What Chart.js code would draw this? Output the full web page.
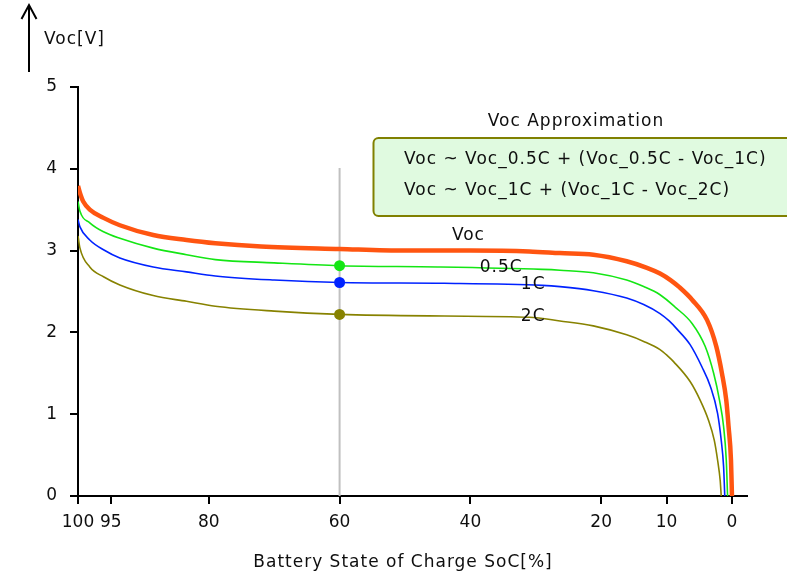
<!DOCTYPE html>
<html><head><meta charset="utf-8">
<script src="https://cdn.jsdelivr.net/npm/chart.js@4.4.0/dist/chart.umd.min.js"></script>
<style>html,body{margin:0;padding:0;background:#fff;}canvas{display:block;}</style>
</head><body>
<canvas id="c" width="787" height="574"></canvas>
<script>
// ---- data ----
const xTickValues = [100, 95, 80, 60, 40, 20, 10, 0];
const yTickValues = [0, 1, 2, 3, 4, 5];

const vocSoc = [100, 99.6, 99.2, 98.2, 96.1, 93.6, 88.5, 83.4, 79, 72, 60, 50, 40, 31, 26.3, 21.2, 16.1, 13, 11, 9.4, 8, 6.1, 3.8, 2.4, 1.53, 0.87, 0.52, 0.15, 0];
const vocValues = [3.79, 3.68, 3.60, 3.50, 3.40, 3.31, 3.19, 3.13, 3.09, 3.05, 3.02, 3.00, 3.00, 2.99, 2.97, 2.95, 2.87, 2.79, 2.72, 2.64, 2.55, 2.40, 2.15, 1.83, 1.50, 1.17, 0.85, 0.44, 0];

const c05Soc = [100, 99.7, 98.2, 96.1, 93.6, 88.5, 83.4, 79, 70, 60, 45, 29, 26.3, 21.2, 16.1, 13.5, 11, 8.7, 6.1, 4.1, 2.8, 1.9, 1.28, 0.87, 0.67];
const c05Values = [3.60, 3.48, 3.34, 3.23, 3.15, 3.03, 2.95, 2.89, 2.85, 2.815, 2.80, 2.77, 2.76, 2.73, 2.64, 2.56, 2.46, 2.31, 2.11, 1.83, 1.50, 1.17, 0.85, 0.44, 0];

const c1Soc = [100, 99.7, 98.2, 96.1, 93.6, 88.5, 83.4, 79, 70, 60, 44, 29, 26.3, 21.2, 16.1, 13.5, 11, 9.6, 8.4, 6.4, 4.6, 3.3, 2.2, 1.64, 1.28, 1.1];
const c1Values = [3.38, 3.29, 3.13, 3.01, 2.91, 2.80, 2.74, 2.69, 2.64, 2.61, 2.60, 2.575, 2.56, 2.51, 2.42, 2.34, 2.23, 2.14, 2.04, 1.85, 1.58, 1.34, 1.01, 0.68, 0.36, 0];

const c2Soc = [100, 99.7, 98.2, 96.1, 93.6, 88.5, 83.4, 79, 70, 60, 44, 31, 26.3, 21.2, 16.1, 13.5, 11, 9.8, 8.9, 6.4, 4.85, 3.6, 2.7, 2.2, 1.8, 1.64];
const c2Values = [3.18, 3.03, 2.80, 2.68, 2.58, 2.45, 2.38, 2.32, 2.26, 2.22, 2.20, 2.185, 2.14, 2.08, 1.97, 1.89, 1.79, 1.71, 1.64, 1.40, 1.17, 0.93, 0.68, 0.44, 0.19, 0];

const cursorSoc = [60, 60];
const cursorValues = [0, 4.01];
const markerSoc = [60, 60, 60];
const markerValues = [2.815, 2.61, 2.22];

const seriesLabels = ['Voc', '0.5C', '1C', '2C'];
const seriesLabelSoc = [40.3, 35.3, 30.4, 30.4];
const seriesLabelValues = [3.20, 2.81, 2.61, 2.21];

const xTitle = 'Battery State of Charge SoC[%]';
const yTitle = 'Voc[V]';
const noteTitle = 'Voc Approximation';
const noteLines = ['Voc ~ Voc_0.5C + (Voc_0.5C - Voc_1C)', 'Voc ~ Voc_1C + (Voc_1C - Voc_2C)'];

// ---- style ----
const COL_VOC = '#ff5511', COL_05 = '#14e614', COL_1 = '#0022ff', COL_2 = '#878200';
const FONT = '"DejaVu Sans", Verdana, sans-serif';
const TXT = '#0e0e0e';

const pts = (xs, ys) => xs.map((x, i) => ({x, y: ys[i]}));

const textPlugin = {
  id: 'texts',
  afterDraw(chart) {
    const ctx = chart.ctx;
    const xs = chart.scales.x, ys = chart.scales.y;
    ctx.save();
    ctx.fillStyle = TXT;
    ctx.font = '17px ' + FONT;
    ctx.letterSpacing = '1px';
    ctx.textBaseline = 'alphabetic';
    // y title + arrow
    ctx.textAlign = 'left';
    ctx.fillText(yTitle, 44, 44);
    ctx.strokeStyle = '#000';
    ctx.lineWidth = 2;
    ctx.beginPath();
    ctx.moveTo(29, 72); ctx.lineTo(29, 5);
    ctx.moveTo(21.5, 19); ctx.lineTo(29, 5); ctx.lineTo(36.5, 19);
    ctx.stroke();
    // x title
    ctx.textAlign = 'center';
    ctx.fillText(xTitle, 403, 567);
    // series labels
    seriesLabels.forEach((t, i) => {
      ctx.fillText(t, xs.getPixelForValue(seriesLabelSoc[i]), ys.getPixelForValue(seriesLabelValues[i]) + 6.2);
    });
    // note
    ctx.fillText(noteTitle, 576, 126);
    ctx.fillStyle = '#e0fae0';
    ctx.strokeStyle = '#808000';
    ctx.lineWidth = 2;
    ctx.beginPath();
    ctx.roundRect(373.5, 138, 440, 78, 5);
    ctx.fill(); ctx.stroke();
    ctx.fillStyle = TXT;
    ctx.textAlign = 'left';
    ctx.fillText(noteLines[0], 404, 163.5);
    ctx.fillText(noteLines[1], 404, 195);
    ctx.restore();
  }
};

new Chart(document.getElementById('c'), {
  type: 'scatter',
  data: {
    datasets: [
      {label: 'cursor', data: pts(cursorSoc, cursorValues), showLine: true, borderColor: '#c0c0c0', borderWidth: 2, pointRadius: 0, order: 10},
      {label: '2C', data: pts(c2Soc, c2Values), showLine: true, borderColor: COL_2, borderWidth: 1.6, pointRadius: 0, cubicInterpolationMode: 'monotone', order: 6},
      {label: '1C', data: pts(c1Soc, c1Values), showLine: true, borderColor: COL_1, borderWidth: 1.6, pointRadius: 0, cubicInterpolationMode: 'monotone', order: 5},
      {label: '0.5C', data: pts(c05Soc, c05Values), showLine: true, borderColor: COL_05, borderWidth: 1.6, pointRadius: 0, cubicInterpolationMode: 'monotone', order: 4},
      {label: 'Voc', data: pts(vocSoc, vocValues), showLine: true, borderColor: COL_VOC, borderWidth: 4.5, pointRadius: 0, cubicInterpolationMode: 'monotone', order: 3},
      {label: 'markers', data: pts(markerSoc, markerValues), showLine: false, pointRadius: 5.5, pointStyle: 'circle',
        backgroundColor: [COL_05, COL_1, COL_2], borderColor: [COL_05, COL_1, COL_2], borderWidth: 0, order: 1}
    ]
  },
  options: {
    responsive: false,
    animation: false,
    events: [],
    layout: {padding: {top: 87, right: 40, bottom: 0, left: 0}},
    plugins: {legend: {display: false}, tooltip: {enabled: false}},
    scales: {
      x: {
        type: 'linear', reverse: true, min: -2.3, max: 100,
        afterBuildTicks: s => { s.ticks = xTickValues.map(v => ({value: v})); },
        afterFit: s => { s.height = 78; },
        grid: {drawOnChartArea: false, drawTicks: true, tickLength: 8, color: '#000', lineWidth: 2},
        border: {display: true, color: '#000', width: 2},
        ticks: {color: TXT, font: {family: FONT, size: 17}, padding: 8, maxRotation: 0, autoSkip: false}
      },
      y: {
        type: 'linear', min: 0, max: 5,
        afterBuildTicks: s => { s.ticks = yTickValues.map(v => ({value: v})); },
        afterFit: s => { s.width = 78; },
        grid: {drawOnChartArea: false, drawTicks: true, tickLength: 8, color: '#000', lineWidth: 2},
        border: {display: true, color: '#000', width: 2},
        ticks: {color: TXT, font: {family: FONT, size: 17}, padding: 13}
      }
    }
  },
  plugins: [textPlugin]
});
</script>
</body></html>
